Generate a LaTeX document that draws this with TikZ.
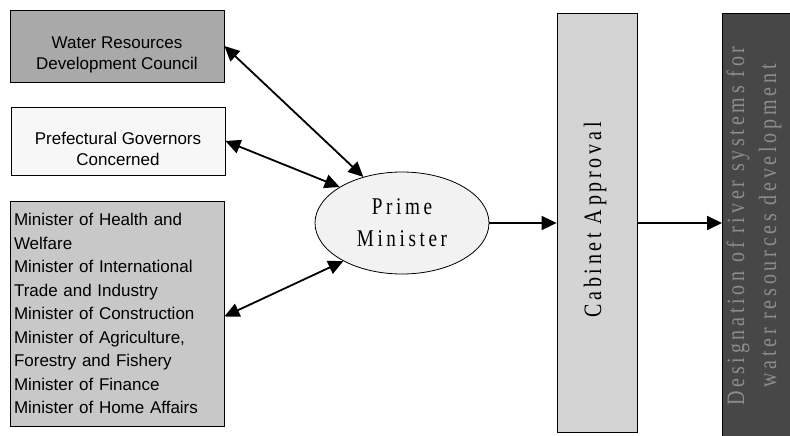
\documentclass[tikz,border=0pt]{standalone}
\usepackage{fontspec}
\setmainfont{Liberation Sans}
\newfontfamily\condfont[FakeStretch=0.8,LetterSpace=15]{Liberation Serif}
\usetikzlibrary{arrows.meta,shapes.geometric}
\definecolor{boxA}{HTML}{A9A9A9}
\definecolor{boxB}{HTML}{F7F7F7}
\definecolor{boxC}{HTML}{C8C8C8}
\definecolor{ellfill}{HTML}{F2F2F2}
\definecolor{cabfill}{HTML}{D4D4D4}
\definecolor{darkfill}{HTML}{474747}
\definecolor{darktext}{HTML}{8C8C8C}
\tikzset{
  sbox/.style={draw=black, line width=0.8pt, inner sep=3pt},
  stext/.style={align=center, inner sep=0pt, font=\fontsize{17}{21.5}\selectfont},
  arr/.style={line width=1.8pt, -{Triangle[length=15pt,width=14pt]}},
  darr/.style={line width=1.8pt, {Triangle[length=15pt,width=14pt]}-{Triangle[length=15pt,width=14pt]}},
  cond/.style={font=\condfont\fontsize{24}{32}\selectfont},
  condl/.style={font=\condfont\fontsize{25}{32}\selectfont}
}
\begin{document}
\begin{tikzpicture}[x=1pt,y=-1pt]
\clip (0,0) rectangle (790,436);
\useasboundingbox (0,0) rectangle (790,436);
\node[sbox, fill=boxA, minimum width=214pt, minimum height=72pt] (b1) at (117,46) {};
\node[stext] (b1t) at (117,55) {Water Resources\\Development Council};
\node[sbox, fill=boxB, minimum width=214pt, minimum height=68pt] (b2) at (118,141) {};
\node[stext] (b2t) at (118,149) {Prefectural Governors\\Concerned};
\node[sbox, fill=boxC, minimum width=214pt, minimum height=225pt, text width=206pt, align=left, font=\fontsize{17}{23.5}\selectfont] (b3) at (117,313.5) {Minister of Health and\\Welfare\\Minister of International\\Trade and Industry\\Minister of Construction\\Minister of Agriculture,\\Forestry and Fishery\\Minister of Finance\\Minister of Home Affairs};
\node[draw=black, line width=0.8pt, fill=ellfill, ellipse, minimum width=174pt, minimum height=102pt, inner sep=0pt] (pm) at (402,223) {};
\node[cond, align=center] (pmt) at (pm.center) {Prime\\Minister};
\node[draw=black, line width=0.8pt, fill=cabfill, minimum width=80pt, minimum height=419pt, inner sep=0pt] (cab) at (597,222.5) {};
\node[condl, rotate=90] (cabt) at (595,220) {Cabinet Approval};
\node[draw=black, line width=0.8pt, fill=darkfill, minimum width=90pt, minimum height=440pt, inner sep=0pt, anchor=north west] (des) at (722,13) {};
\node[condl, rotate=90, align=center, text=darktext] (dest) at (754,226) {Designation of river systems for\\water resources development};
\draw[darr] (b1.east) -- (pm.130);
\draw[darr] (b2.east) -- (pm.150);
\draw[darr] ([yshift=-3pt]b3.east) -- (pm.213);
\draw[arr] (pm.east) -- (pm.east -| cab.west);
\draw[arr] (cab.east |- pm.east) -- (pm.east -| des.west);
\end{tikzpicture}
\end{document}
